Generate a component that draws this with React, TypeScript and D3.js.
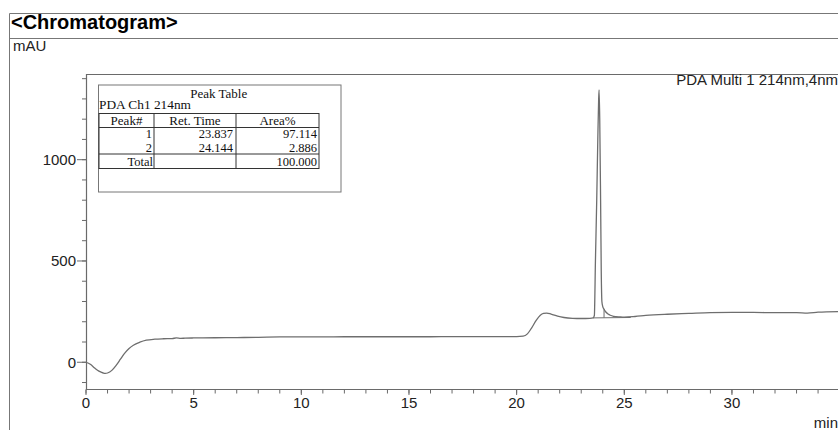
import React from "react";
import * as d3 from "d3";

// ---- data ----
const times = [
  0, 0.2, 0.4, 0.6, 0.8, 0.9, 1.0, 1.2, 1.4, 1.6, 1.8, 2.0, 2.2, 2.5, 2.8, 3.2, 3.6, 4.0, 4.2, 4.4, 4.6, 5,
  6, 7, 8, 9, 10, 11, 12, 13, 14, 15, 16, 17, 18, 19, 20, 20.3, 20.5, 20.7, 20.9, 21.1, 21.25, 21.4, 21.6, 21.9,
  22.2, 22.6, 23.0, 23.4, 23.55, 23.61, 23.66, 23.72, 23.77, 23.81, 23.83, 23.86, 23.9, 23.93, 23.96, 24.0,
  24.06, 24.144, 24.25, 24.35, 24.5, 24.8, 25.0, 25.5, 26, 27, 28, 29, 30, 31, 32, 33, 33.5, 34, 35,
];
const absorbance = [
  0, -10, -28, -44, -53, -55, -53, -40, -15, 15, 45, 68, 84, 99, 109, 114, 116, 117, 120, 118, 119, 120,
  121, 122, 123, 125, 125, 125, 126, 126, 126, 126, 126, 127, 127, 127, 127, 129, 140, 170, 205, 232, 241, 243, 238, 228,
  221, 217, 216, 217, 219, 231, 500, 800, 1100, 1300, 1345, 1200, 800, 450, 300, 275,
  262, 248, 238, 232, 227, 224, 223, 226, 231, 237, 241, 245, 246, 246, 245, 245, 243, 247, 250,
];
const xMajorTicks = [0, 5, 10, 15, 20, 25, 30];
const xMinorTicks = d3.range(0, 35, 1);
const yMajorTicks = [0, 500, 1000];
const yMinorTicks = d3.range(-100, 1500, 100);
const baselineTimes = [23.55, 25.3];
const baselineValues = [219, 221];
const dropTime = 24.06;

const peakIds = ["1", "2"];
const retTimes = ["23.837", "24.144"];
const areaPct = ["97.114", "2.886"];
const totalArea = "100.000";

const W = 838;
const H = 430;

export default function App() {
  const x = d3.scaleLinear().domain([0, 35]).range([86, 839.6]);
  const y = d3.scaleLinear().domain([-132, 1423]).range([389, 74]);
  const pts: [number, number][] = times.map((t, i) => [t, absorbance[i]]);
  const line = d3
    .line<[number, number]>()
    .x((d) => x(d[0]))
    .y((d) => y(d[1]))
    .curve(d3.curveMonotoneX);
  const interp = (t: number) => {
    const i = d3.bisectLeft(times, t);
    const t0 = times[i - 1], t1 = times[i];
    const v0 = absorbance[i - 1], v1 = absorbance[i];
    return v0 + ((t - t0) / (t1 - t0)) * (v1 - v0);
  };
  const baseAt = (t: number) =>
    baselineValues[0] + ((t - baselineTimes[0]) / (baselineTimes[1] - baselineTimes[0])) * (baselineValues[1] - baselineValues[0]);

  const sans = "Liberation Sans, Arial, sans-serif";
  const serif = "Liberation Serif, Times New Roman, serif";
  const axisColor = "#6a6a6a";

  // table geometry
  const tb = { x0: 98.5, x1: 341, y0: 85, y1: 192 };
  const cols = [99, 154, 236, 319];
  const rows = [113.5, 127.5, 154, 168.5];
  const rowFont = 12.5;

  return (
    <svg width={W} height={H} style={{ position: "absolute", left: 0, top: 0, background: "#fff" }}>
      <rect x={0} y={0} width={W} height={H} fill="#fff" />
      {/* outer frame */}
      <line x1={9.5} y1={13.5} x2={W} y2={13.5} stroke="#777" strokeWidth={1} />
      <line x1={9.5} y1={38.5} x2={W} y2={38.5} stroke="#777" strokeWidth={1} />
      <line x1={9.5} y1={13.5} x2={9.5} y2={H} stroke="#777" strokeWidth={1} />
      <text x={11} y={29} fontFamily={sans} fontWeight="bold" fontSize={20} fill="#000">
        {"<Chromatogram>"}
      </text>
      <text x={13} y={51} fontFamily={sans} fontSize={15} fill="#222">
        mAU
      </text>

      {/* plot frame */}
      <line x1={86} y1={74.5} x2={W} y2={74.5} stroke={axisColor} strokeWidth={1.2} />
      <line x1={86.5} y1={74} x2={86.5} y2={389} stroke={axisColor} strokeWidth={1.2} />
      <line x1={86} y1={389.5} x2={W} y2={389.5} stroke={axisColor} strokeWidth={1.2} />

      {/* y ticks */}
      {yMinorTicks.map((v) => (
        <line key={"ym" + v} x1={82} x2={86.5} y1={y(v)} y2={y(v)} stroke={axisColor} strokeWidth={1} />
      ))}
      {yMajorTicks.map((v) => (
        <g key={"yM" + v}>
          <line x1={77} x2={86.5} y1={y(v)} y2={y(v)} stroke={axisColor} strokeWidth={1} />
          <text x={76} y={y(v) + 5.5} textAnchor="end" fontFamily={sans} fontSize={15} fill="#222">
            {v}
          </text>
        </g>
      ))}

      {/* x ticks */}
      {xMinorTicks.map((t) => (
        <line key={"xm" + t} x1={x(t)} x2={x(t)} y1={389.5} y2={393.5} stroke={axisColor} strokeWidth={1} />
      ))}
      {xMajorTicks.map((t) => (
        <g key={"xM" + t}>
          <line x1={x(t)} x2={x(t)} y1={389.5} y2={395} stroke={axisColor} strokeWidth={1} />
          <text x={x(t)} y={408} textAnchor="middle" fontFamily={sans} fontSize={15} fill="#222">
            {t}
          </text>
        </g>
      ))}
      <text x={838} y={428} textAnchor="end" fontFamily={sans} fontSize={15} fill="#222">
        min
      </text>
      <text x={838} y={85} textAnchor="end" fontFamily={sans} fontSize={15} fill="#222">
        PDA Multi 1 214nm,4nm
      </text>

      {/* trace */}
      <path d={line(pts) || ""} fill="none" stroke="#6e6e6e" strokeWidth={1.3} />
      {/* integration baseline and drop line */}
      <line
        x1={x(baselineTimes[0])}
        y1={y(baselineValues[0])}
        x2={x(baselineTimes[1])}
        y2={y(baselineValues[1])}
        stroke="#6e6e6e"
        strokeWidth={1}
      />
      <line
        x1={x(dropTime)}
        x2={x(dropTime)}
        y1={y(baseAt(dropTime))}
        y2={y(interp(dropTime))}
        stroke="#6e6e6e"
        strokeWidth={1}
      />

      {/* peak table */}
      <rect x={tb.x0} y={tb.y0} width={tb.x1 - tb.x0} height={tb.y1 - tb.y0} fill="#fff" stroke="#777" strokeWidth={1} />
      <text x={(tb.x0 + 319) / 2 + 10} y={98} textAnchor="middle" fontFamily={serif} fontSize={13} fill="#111">
        Peak Table
      </text>
      <text x={99} y={109} fontFamily={serif} fontSize={13} fill="#111" textLength={92} lengthAdjust="spacingAndGlyphs">
        PDA Ch1 214nm
      </text>
      <rect x={cols[0]} y={rows[0]} width={cols[3] - cols[0]} height={rows[3] - rows[0]} fill="none" stroke="#333" strokeWidth={1} />
      <line x1={cols[0]} x2={cols[3]} y1={rows[1]} y2={rows[1]} stroke="#333" strokeWidth={1} />
      <line x1={cols[0]} x2={cols[3]} y1={rows[2]} y2={rows[2]} stroke="#333" strokeWidth={1} />
      <line x1={cols[1]} x2={cols[1]} y1={rows[0]} y2={rows[3]} stroke="#333" strokeWidth={1} />
      <line x1={cols[2]} x2={cols[2]} y1={rows[0]} y2={rows[3]} stroke="#333" strokeWidth={1} />
      {["Peak#", "Ret. Time", "Area%"].map((h, i) => (
        <text key={h} x={(cols[i] + cols[i + 1]) / 2} y={124.5} textAnchor="middle" fontFamily={serif} fontSize={13} fill="#111">
          {h}
        </text>
      ))}
      {peakIds.map((p, i) => {
        const by = 138 + i * 14;
        return (
          <g key={p}>
            <text x={cols[1] - 2} y={by} textAnchor="end" fontFamily={serif} fontSize={rowFont} fill="#111">
              {p}
            </text>
            <text x={cols[2] - 3} y={by} textAnchor="end" fontFamily={serif} fontSize={rowFont} fill="#111">
              {retTimes[i]}
            </text>
            <text x={cols[3] - 2} y={by} textAnchor="end" fontFamily={serif} fontSize={rowFont} fill="#111">
              {areaPct[i]}
            </text>
          </g>
        );
      })}
      <text x={cols[1] - 1} y={166} textAnchor="end" fontFamily={serif} fontSize={rowFont} fill="#111">
        Total
      </text>
      <text x={cols[3] - 2} y={166} textAnchor="end" fontFamily={serif} fontSize={rowFont} fill="#111">
        {totalArea}
      </text>
    </svg>
  );
}
